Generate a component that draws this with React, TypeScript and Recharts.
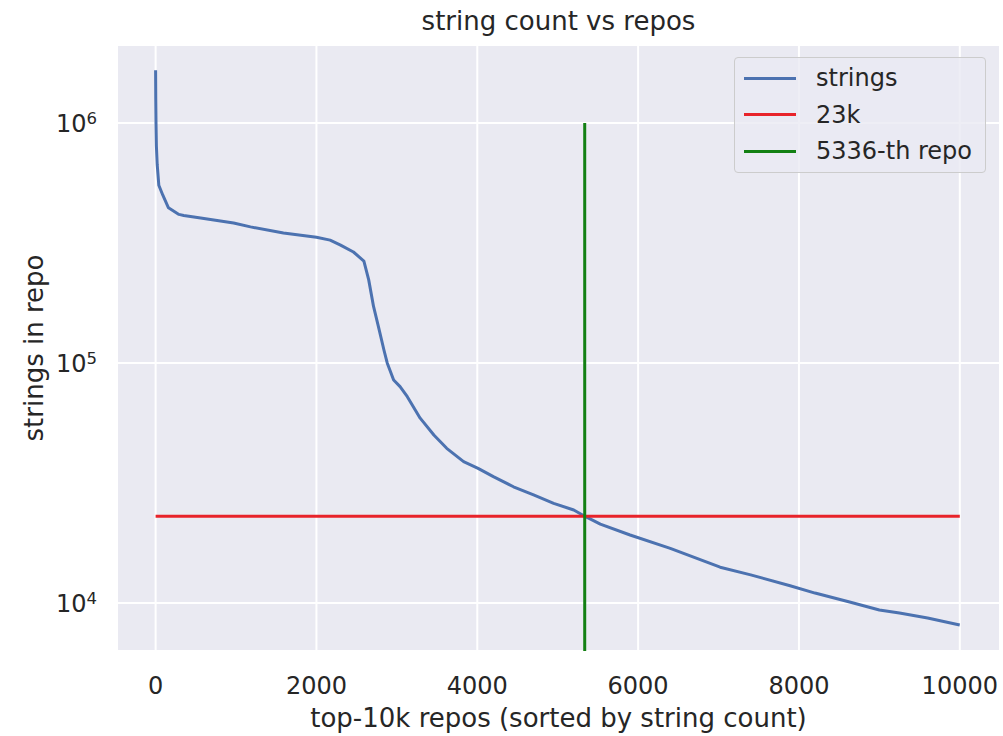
import { LineChart, Line, XAxis, YAxis, CartesianGrid, Legend } from 'recharts';

// repo rank (sorted by string count) and strings per repo
const REPO_RANK = [
  0, 2, 5, 10, 20, 40, 90, 160, 290, 350, 560, 970, 1180, 1590, 2000, 2170, 2300, 2460, 2590, 2650,
  2710, 2770, 2840, 2880, 2960, 3040, 3130, 3290, 3460, 3620, 3830, 4010, 4200, 4450, 4700, 4950, 5200,
  5336, 5530, 5900, 6400, 7020, 7400, 7890, 8200, 8630, 9000, 9250, 9600, 9999,
];
const STRING_COUNT = [
  1660000, 1250000, 1000000, 800000, 670000, 550000, 500000, 443000, 416000, 412000, 402000, 383000,
  369000, 348000, 334000, 325000, 310000, 290000, 266000, 222000, 172000, 142000, 113000, 100000, 84900,
  79700, 72400, 58900, 50100, 44100, 38800, 36400, 33600, 30500, 28200, 26000, 24400, 23000, 21300,
  19200, 16900, 14100, 13100, 11800, 11000, 10100, 9350, 9080, 8660, 8100,
];

const THRESHOLD_COUNT = 23000;
const THRESHOLD_SPAN = [0, 10000];
const CUTOFF_RANK = 5336;
const CUTOFF_TOP = 1000000;

const X_DOMAIN = [-480, 10500];
const Y_DOMAIN = [6310, 2113000];
const X_TICKS = [0, 2000, 4000, 6000, 8000, 10000];
const Y_TICKS = [10000, 100000, 1000000];

const LEGEND_ITEMS = [
  { label: 'strings', color: '#4c72b0' },
  { label: '23k', color: '#e8232a' },
  { label: '5336-th repo', color: '#138013' },
];

const FONT = '"DejaVu Sans", sans-serif';
const TEXT = '#262626';
const PLOT_BOTTOM = 651;

const stringsData = REPO_RANK.map((x, i) => ({ x, y: STRING_COUNT[i] }));
const thresholdData = THRESHOLD_SPAN.map((x) => ({ x, y: THRESHOLD_COUNT }));
const cutoffData = [
  { x: CUTOFF_RANK, y: CUTOFF_TOP },
  { x: CUTOFF_RANK, y: Y_DOMAIN[0] },
];

function XTick({ x, payload }: any) {
  return (
    <text x={x} y={PLOT_BOTTOM + 43} textAnchor="middle" fontFamily={FONT} fontSize={24} fill={TEXT}>
      {payload.value}
    </text>
  );
}

function YTick({ y, payload }: any) {
  const exp = Math.round(Math.log10(payload.value));
  return (
    <text x={97} y={y + 9} textAnchor="end" fontFamily={FONT} fontSize={24} fill={TEXT}>
      <tspan>10</tspan>
      <tspan dy={-8} fontSize={16.5}>
        {exp}
      </tspan>
    </text>
  );
}

function LegendBox() {
  return (
    <div
      style={{
        width: 252,
        height: 116,
        boxSizing: 'border-box',
        background: 'rgba(234,234,242,0.8)',
        border: '1px solid #cccccc',
        borderRadius: 4,
        position: 'relative',
        fontFamily: FONT,
        fontSize: 24,
        color: TEXT,
      }}
    >
      {LEGEND_ITEMS.map((item, i) => (
        <div key={item.label} style={{ position: 'absolute', left: 0, top: 20 + i * 36.5, height: 0 }}>
          <div
            style={{
              position: 'absolute',
              left: 9,
              top: -1.5,
              width: 52,
              height: 3,
              background: item.color,
            }}
          />
          <div style={{ position: 'absolute', left: 81, top: -14, lineHeight: '28px', whiteSpace: 'nowrap' }}>
            {item.label}
          </div>
        </div>
      ))}
    </div>
  );
}

export default function App() {
  return (
    <div style={{ position: 'absolute', left: 0, top: 0, width: 1003, height: 736, background: '#fff' }}>
      <LineChart width={1003} height={736} margin={{ top: 45, right: 3, left: 0, bottom: 0 }}>
        <CartesianGrid fill="#eaeaf2" fillOpacity={1} stroke="#ffffff" strokeWidth={2} />
        <XAxis
          type="number"
          dataKey="x"
          domain={X_DOMAIN}
          ticks={X_TICKS}
          allowDataOverflow
          axisLine={false}
          tickLine={false}
          height={85}
          tick={<XTick />}
        />
        <YAxis
          type="number"
          dataKey="y"
          scale="log"
          domain={Y_DOMAIN}
          ticks={Y_TICKS}
          allowDataOverflow
          axisLine={false}
          tickLine={false}
          width={117}
          tick={<YTick />}
        />
        <Legend
          layout="vertical"
          align="center"
          verticalAlign="middle"
          content={() => <LegendBox />}
          wrapperStyle={{ left: 734, top: 57, width: 252, height: 116 }}
        />
        <Line
          data={stringsData}
          dataKey="y"
          name="strings"
          type="linear"
          stroke={LEGEND_ITEMS[0].color}
          strokeWidth={3}
          strokeLinejoin="round"
          dot={false}
          isAnimationActive={false}
        />
        <Line
          data={thresholdData}
          dataKey="y"
          name="23k"
          type="linear"
          stroke={LEGEND_ITEMS[1].color}
          strokeWidth={3}
          dot={false}
          isAnimationActive={false}
        />
        <Line
          data={cutoffData}
          dataKey="y"
          name="5336-th repo"
          type="linear"
          stroke={LEGEND_ITEMS[2].color}
          strokeWidth={3}
          dot={false}
          isAnimationActive={false}
        />
      </LineChart>
      <div
        style={{
          position: 'absolute',
          left: 117,
          width: 883,
          top: 8,
          textAlign: 'center',
          fontFamily: FONT,
          fontSize: 26,
          lineHeight: '26px',
          color: TEXT,
          whiteSpace: 'nowrap',
        }}
      >
        string count vs repos
      </div>
      <div
        style={{
          position: 'absolute',
          left: 117,
          width: 883,
          top: 705,
          textAlign: 'center',
          fontFamily: FONT,
          fontSize: 26,
          lineHeight: '26px',
          color: TEXT,
          whiteSpace: 'nowrap',
        }}
      >
        top-10k repos (sorted by string count)
      </div>
      <div
        style={{
          position: 'absolute',
          left: 34 - 150,
          top: 348 - 13,
          width: 300,
          textAlign: 'center',
          fontFamily: FONT,
          fontSize: 26,
          lineHeight: '26px',
          color: TEXT,
          whiteSpace: 'nowrap',
          transform: 'rotate(-90deg)',
        }}
      >
        strings in repo
      </div>
    </div>
  );
}
